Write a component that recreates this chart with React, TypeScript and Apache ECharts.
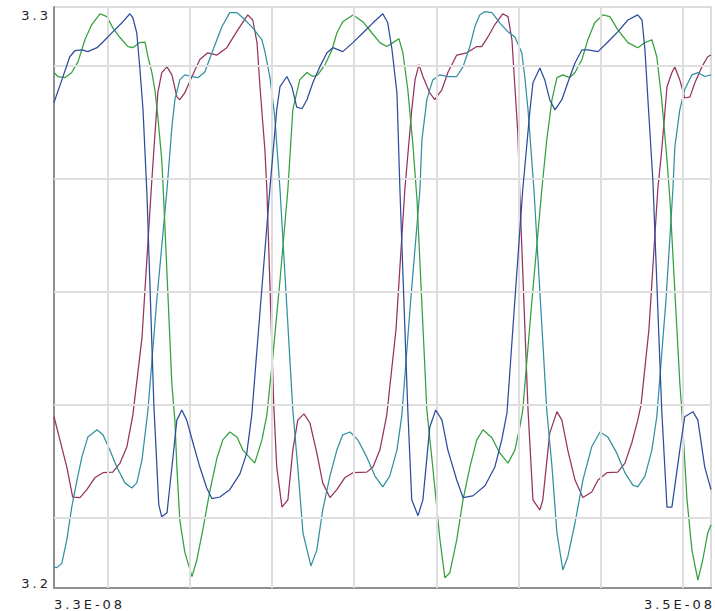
import React, { useEffect, useRef } from "react";
import * as echarts from "echarts";

// time in ns, voltage in V
const blueSeries: number[][] = [
  [32.836,3.2935],[32.860,3.2975],[32.884,3.3016],[32.900,3.3027],[32.921,3.3028],[32.939,3.3025],[32.967,3.3032],[32.985,3.3042],[33.015,3.3060],[33.046,3.3078],[33.067,3.3092],[33.076,3.3085],[33.088,3.3058],[33.097,3.2998],[33.107,3.2922],[33.119,3.2772],[33.140,3.2400],[33.155,3.2223],[33.164,3.2202],[33.180,3.2209],[33.195,3.2290],[33.210,3.2373],[33.225,3.2391],[33.240,3.2373],[33.259,3.2333],[33.280,3.2290],[33.301,3.2253],[33.317,3.2234],[33.341,3.2237],[33.371,3.2250],[33.402,3.2278],[33.423,3.2315],[33.438,3.2382],[33.466,3.2586],[33.493,3.2781],[33.514,3.2922],[33.524,3.2963],[33.545,3.2981],[33.560,3.2963],[33.575,3.2927],[33.591,3.2924],[33.606,3.2940],[33.624,3.2970],[33.645,3.2998],[33.667,3.3023],[33.685,3.3032],[33.715,3.3025],[33.746,3.3041],[33.776,3.3058],[33.807,3.3076],[33.837,3.3092],[33.852,3.3076],[33.865,3.3028],[33.880,3.2952],[33.889,3.2781],[33.913,3.2391],[33.925,3.2232],[33.944,3.2204],[33.959,3.2232],[33.980,3.2361],[33.998,3.2391],[34.017,3.2373],[34.035,3.2320],[34.062,3.2267],[34.081,3.2236],[34.111,3.2239],[34.148,3.2257],[34.178,3.2290],[34.199,3.2338],[34.215,3.2386],[34.239,3.2586],[34.263,3.2781],[34.285,3.2922],[34.294,3.2970],[34.315,3.2996],[34.330,3.2975],[34.345,3.2940],[34.361,3.2922],[34.382,3.2940],[34.400,3.2970],[34.422,3.3005],[34.443,3.3028],[34.461,3.3028],[34.492,3.3025],[34.522,3.3042],[34.552,3.3060],[34.583,3.3081],[34.613,3.3090],[34.626,3.3081],[34.635,3.3028],[34.644,3.2940],[34.659,3.2798],[34.686,3.2391],[34.702,3.2219],[34.717,3.2219],[34.741,3.2320],[34.756,3.2379],[34.781,3.2388],[34.796,3.2373],[34.817,3.2290],[34.836,3.2250]
];

const greenSeries: number[][] = [
  [32.836,3.2988],[32.848,3.2981],[32.869,3.2979],[32.890,3.2988],[32.909,3.3007],[32.930,3.3046],[32.951,3.3073],[32.976,3.3092],[32.997,3.3087],[33.015,3.3067],[33.037,3.3050],[33.061,3.3034],[33.076,3.3032],[33.097,3.3041],[33.113,3.3042],[33.122,3.3016],[33.134,3.2988],[33.143,3.2958],[33.152,3.2910],[33.164,3.2834],[33.170,3.2763],[33.195,3.2435],[33.204,3.2373],[33.210,3.2290],[33.219,3.2196],[33.234,3.2140],[33.256,3.2096],[33.271,3.2126],[33.289,3.2179],[33.310,3.2246],[33.332,3.2306],[33.350,3.2338],[33.371,3.2352],[33.393,3.2343],[33.411,3.2320],[33.447,3.2297],[33.469,3.2338],[33.484,3.2382],[33.502,3.2485],[33.524,3.2621],[33.548,3.2781],[33.563,3.2922],[33.584,3.2975],[33.606,3.2988],[33.624,3.2981],[33.639,3.2984],[33.661,3.3002],[33.682,3.3028],[33.697,3.3058],[33.715,3.3078],[33.746,3.3090],[33.776,3.3078],[33.804,3.3058],[33.828,3.3041],[33.849,3.3034],[33.868,3.3041],[33.886,3.3048],[33.898,3.3023],[33.913,3.2958],[33.928,3.2864],[33.941,3.2763],[33.971,3.2391],[33.989,3.2290],[34.011,3.2161],[34.026,3.2094],[34.041,3.2103],[34.062,3.2161],[34.081,3.2232],[34.102,3.2290],[34.123,3.2338],[34.142,3.2356],[34.169,3.2342],[34.193,3.2315],[34.218,3.2297],[34.239,3.2320],[34.254,3.2361],[34.263,3.2391],[34.291,3.2586],[34.321,3.2781],[34.336,3.2869],[34.352,3.2940],[34.367,3.2979],[34.385,3.2984],[34.406,3.2979],[34.422,3.2988],[34.443,3.3011],[34.461,3.3046],[34.482,3.3076],[34.507,3.3090],[34.528,3.3087],[34.552,3.3064],[34.583,3.3041],[34.613,3.3032],[34.635,3.3041],[34.656,3.3046],[34.671,3.3016],[34.686,3.2940],[34.702,3.2834],[34.711,3.2763],[34.741,3.2439],[34.747,3.2391],[34.763,3.2232],[34.778,3.2143],[34.796,3.2090],[34.811,3.2126],[34.826,3.2173],[34.836,3.2188]
];

const maroonSeries: number[][] = [
  [32.836,3.2379],[32.854,3.2338],[32.875,3.2290],[32.893,3.2237],[32.915,3.2236],[32.936,3.2250],[32.960,3.2271],[32.985,3.2280],[33.015,3.2281],[33.037,3.2297],[33.058,3.2326],[33.076,3.2382],[33.104,3.2520],[33.131,3.2772],[33.140,3.2851],[33.152,3.2952],[33.164,3.2988],[33.180,3.2998],[33.195,3.2984],[33.210,3.2945],[33.219,3.2940],[33.234,3.2952],[33.256,3.2981],[33.280,3.3011],[33.304,3.3023],[33.332,3.3019],[33.362,3.3032],[33.396,3.3064],[33.426,3.3090],[33.441,3.3081],[33.454,3.3041],[33.463,3.2963],[33.478,3.2851],[33.484,3.2781],[33.505,3.2400],[33.514,3.2290],[33.530,3.2219],[33.548,3.2232],[33.563,3.2320],[33.578,3.2373],[33.597,3.2384],[33.615,3.2368],[33.636,3.2315],[33.654,3.2262],[33.676,3.2236],[33.697,3.2250],[33.721,3.2271],[33.746,3.2280],[33.788,3.2281],[33.807,3.2290],[33.828,3.2320],[33.849,3.2382],[33.877,3.2533],[33.904,3.2781],[33.925,3.2922],[33.935,3.2975],[33.947,3.3002],[33.959,3.2981],[33.980,3.2952],[33.995,3.2940],[34.017,3.2958],[34.035,3.2988],[34.062,3.3019],[34.093,3.3023],[34.123,3.3034],[34.138,3.3034],[34.157,3.3051],[34.178,3.3073],[34.202,3.3092],[34.218,3.3087],[34.230,3.3046],[34.239,3.2963],[34.248,3.2881],[34.254,3.2772],[34.279,3.2391],[34.294,3.2232],[34.315,3.2214],[34.324,3.2232],[34.345,3.2350],[34.367,3.2388],[34.382,3.2373],[34.400,3.2320],[34.422,3.2267],[34.446,3.2236],[34.473,3.2246],[34.492,3.2267],[34.519,3.2280],[34.552,3.2281],[34.574,3.2297],[34.595,3.2333],[34.613,3.2373],[34.623,3.2400],[34.647,3.2533],[34.674,3.2781],[34.686,3.2851],[34.702,3.2963],[34.717,3.2988],[34.726,3.2998],[34.741,3.2975],[34.756,3.2943],[34.772,3.2945],[34.787,3.2970],[34.808,3.2998],[34.826,3.3016],[34.836,3.3019]
];

const tealSeries: number[][] = [
  [32.836,3.2113],[32.845,3.2112],[32.860,3.2120],[32.875,3.2161],[32.890,3.2219],[32.906,3.2267],[32.921,3.2308],[32.939,3.2343],[32.967,3.2356],[32.985,3.2347],[33.006,3.2320],[33.027,3.2290],[33.052,3.2262],[33.073,3.2253],[33.088,3.2262],[33.104,3.2303],[33.122,3.2391],[33.149,3.2586],[33.180,3.2781],[33.195,3.2892],[33.204,3.2940],[33.219,3.2975],[33.234,3.2984],[33.256,3.2981],[33.274,3.2979],[33.295,3.2989],[33.320,3.3028],[33.347,3.3069],[33.371,3.3094],[33.393,3.3094],[33.411,3.3085],[33.441,3.3067],[33.469,3.3046],[33.478,3.3025],[33.493,3.2981],[33.508,3.2910],[33.524,3.2781],[33.563,3.2391],[33.578,3.2290],[33.594,3.2173],[33.618,3.2115],[33.636,3.2143],[33.654,3.2214],[33.676,3.2274],[33.697,3.2320],[33.715,3.2347],[33.737,3.2352],[33.761,3.2338],[33.788,3.2308],[33.813,3.2274],[33.837,3.2255],[33.858,3.2274],[33.880,3.2320],[33.895,3.2382],[33.922,3.2586],[33.950,3.2781],[33.956,3.2869],[33.971,3.2940],[33.989,3.2975],[34.011,3.2984],[34.035,3.2981],[34.062,3.2981],[34.081,3.2998],[34.102,3.3034],[34.117,3.3069],[34.132,3.3090],[34.148,3.3096],[34.169,3.3094],[34.193,3.3076],[34.218,3.3060],[34.239,3.3051],[34.260,3.3023],[34.269,3.2981],[34.279,3.2922],[34.297,3.2781],[34.336,3.2391],[34.352,3.2290],[34.367,3.2173],[34.385,3.2108],[34.400,3.2131],[34.422,3.2191],[34.446,3.2267],[34.473,3.2326],[34.498,3.2352],[34.522,3.2343],[34.549,3.2315],[34.574,3.2280],[34.598,3.2258],[34.613,3.2255],[34.635,3.2274],[34.656,3.2320],[34.671,3.2379],[34.699,3.2586],[34.720,3.2781],[34.726,3.2857],[34.741,3.2922],[34.756,3.2958],[34.778,3.2984],[34.796,3.2988],[34.817,3.2981],[34.836,3.2984]
];

const xRange = [32.836, 34.836];
const yRange = [3.2076, 3.3104];
const xGridTimes = [33.0, 33.25, 33.5, 33.75, 34.0, 34.25, 34.5, 34.75];
const yGridValues = [3.22, 3.24, 3.26, 3.28, 3.3];
const yTickLabels = ["3.3", "3.2"];
const xTickLabels = ["3.3E-08", "3.5E-08"];

const seriesNames = ["maroon", "teal", "green", "blue"];
const seriesColors = ["#953261", "#3290a0", "#34a03a", "#2d4c9e"];
const seriesData = [maroonSeries, tealSeries, greenSeries, blueSeries];

export default function App() {
  const ref = useRef<HTMLDivElement>(null);
  useEffect(() => {
    const el = ref.current!;
    const chart = echarts.init(el, null, { renderer: "svg" });
    const labelFont = '13px "DejaVu Sans", Verdana, sans-serif';
    const labelColor = "#1e1e28";
    const mkText = (text: string, x: number, y: number, align: string) => ({
      type: "text",
      x,
      y,
      silent: true,
      style: {
        text,
        font: labelFont,
        fill: labelColor,
        textAlign: align,
        align,
        textVerticalAlign: "middle",
        verticalAlign: "middle",
      },
    });
    chart.setOption({
      animation: false,
      backgroundColor: "#ffffff",
      grid: {
        left: 54,
        right: 4,
        top: 7,
        bottom: 23,
        show: true,
        borderColor: "#b8b8b8",
        borderWidth: 1,
        backgroundColor: "#ffffff",
      },
      xAxis: {
        type: "value",
        min: xRange[0],
        max: xRange[1],
        axisLabel: { show: false },
        axisTick: { show: false },
        splitLine: { show: false },
        axisLine: { show: true, onZero: false, lineStyle: { color: "#8f8f8f", width: 2 } },
      },
      yAxis: {
        type: "value",
        min: yRange[0],
        max: yRange[1],
        axisLabel: { show: false },
        axisTick: { show: false },
        splitLine: { show: false },
        axisLine: { show: true, onZero: false, lineStyle: { color: "#8f8f8f", width: 2 } },
      },
      series: [
        {
          type: "line",
          name: "grid",
          data: [],
          z: 1,
          silent: true,
          markLine: {
            silent: true,
            symbol: ["none", "none"],
            animation: false,
            label: { show: false },
            lineStyle: { color: "#dedede", width: 2, type: "solid" },
            data: [
              ...xGridTimes.map((t) => ({ xAxis: t })),
              ...yGridValues.map((v) => ({ yAxis: v })),
            ],
          },
        },
        ...seriesData.map((d, i) => ({
          type: "line",
          name: seriesNames[i],
          data: d,
          z: 2 + i,
          showSymbol: false,
          symbol: "none",
          silent: true,
          lineStyle: { color: seriesColors[i], width: 1.25 },
          itemStyle: { color: seriesColors[i] },
        })),
      ],
      graphic: [
        mkText(yTickLabels[0], 51, 15, "right"),
        mkText(yTickLabels[1], 51, 583, "right"),
        mkText(xTickLabels[0], 54, 604, "left"),
        mkText(xTickLabels[1], 715, 604, "right"),
      ],
    });
    el.querySelectorAll("text").forEach((t) => {
      t.setAttribute("letter-spacing", "3");
    });
    return () => chart.dispose();
  }, []);
  return (
    <div
      ref={ref}
      style={{ position: "fixed", left: 0, top: 0, width: 715, height: 611, background: "#fff" }}
    />
  );
}
